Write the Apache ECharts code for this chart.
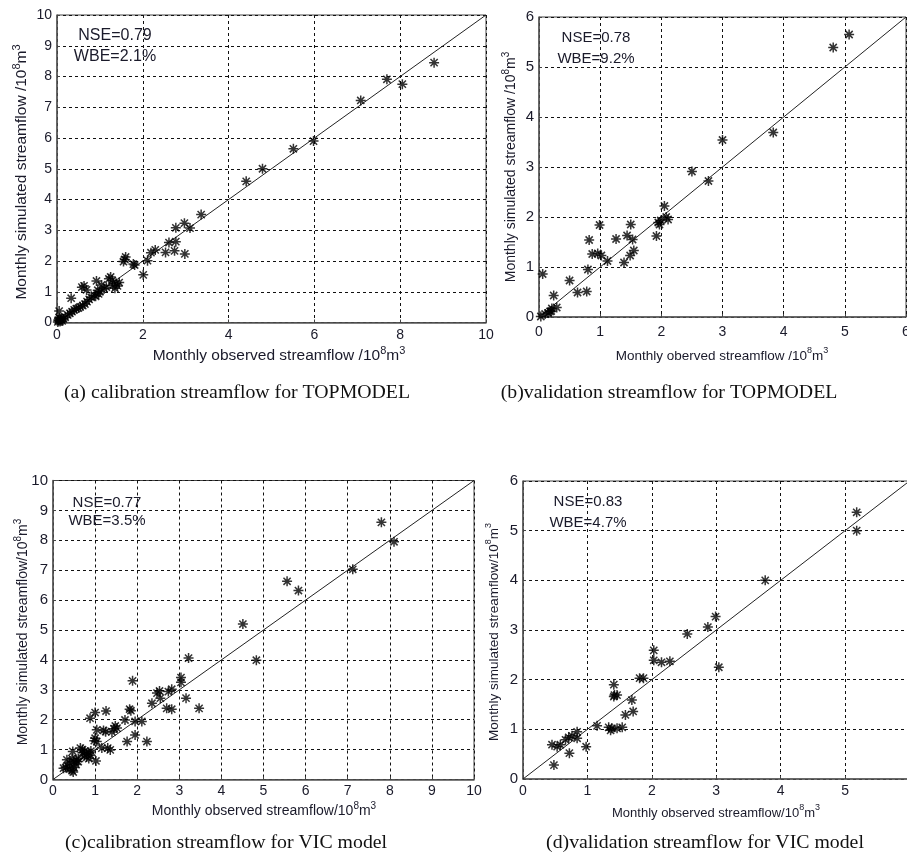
<!DOCTYPE html>
<html><head><meta charset="utf-8">
<script src="https://cdn.jsdelivr.net/npm/echarts@6/dist/echarts.min.js"></script>
<style>html,body{margin:0;padding:0;background:#fff}#c{width:907px;height:853px}</style>
</head><body><div id="c"></div>
<script>
// (a) calibration TOPMODEL
const aObs = [8.79,7.69,8.05,7.08,5.98,5.51,4.79,4.41,3.36,2.97,3.10,2.77,2.77,2.61,2.98,2.74,2.53,2.29,2.19,2.11,2.01,1.81,1.78,1.60,1.55,1.58,1.29,1.21,1.25,1.41,1.35,1.45,1.30,1.38,1.04,1.10,1.15,0.92,0.97,0.87,0.90,1.00,0.95,0.80,0.75,0.70,0.63,0.69,0.58,0.65,0.60,0.54,0.50,0.45,0.33,0.40,0.35,0.30,0.25,0.19,0.15,0.10,0.05,0.07,0.03,0.02,0.05,0.12,0.08,0.04];
const aSim = [8.45,7.91,7.75,7.22,5.90,5.65,5.00,4.59,3.51,3.23,3.07,3.08,2.63,2.60,2.23,2.33,2.28,2.36,2.27,2.01,1.55,1.87,1.90,2.13,1.98,2.05,1.36,1.42,1.48,1.19,1.11,1.30,1.20,1.27,1.22,1.10,1.15,1.35,0.93,0.89,0.85,1.00,1.05,0.82,0.75,0.68,1.19,1.06,1.15,0.60,0.55,0.51,0.47,0.45,0.79,0.41,0.35,0.30,0.25,0.17,0.12,0.10,0.37,0.03,0.08,0.02,0.15,0.05,0.12,0.06];
// (b) validation TOPMODEL
const bObs = [5.07,4.81,3.83,3.00,2.50,2.77,2.05,2.11,1.99,1.95,1.97,2.08,1.92,1.50,1.44,1.53,1.26,1.55,1.49,1.39,1.12,0.99,0.82,0.87,0.96,1.02,0.80,0.50,0.63,0.78,0.06,0.24,0.29,0.21,0.18,0.10,0.03,0.15,0.20];
const bSim = [5.65,5.39,3.69,3.54,2.91,2.72,2.22,1.95,1.93,1.89,1.85,2.00,1.62,1.85,1.63,1.55,1.56,1.33,1.23,1.09,1.12,1.84,1.54,1.26,1.27,1.23,0.95,0.73,0.49,0.51,0.86,0.43,0.19,0.17,0.11,0.06,0.01,0.08,0.12];
// (c) calibration VIC
const cObs = [7.80,8.10,7.12,5.56,5.83,4.51,4.83,3.22,3.04,3.04,3.16,3.47,2.82,2.74,2.53,2.47,2.55,2.35,2.70,2.82,1.89,1.82,1.85,1.71,1.95,2.11,1.95,1.76,2.23,1.26,1.00,0.88,1.04,1.20,1.25,1.40,1.48,1.52,1.45,1.00,1.04,0.98,1.16,1.36,1.30,1.02,0.90,0.85,0.80,0.75,0.70,0.80,0.70,0.65,0.60,0.55,0.50,0.47,0.45,0.40,0.35,0.33,0.25,0.30,0.45,0.50,0.55,0.60,0.48,0.40,0.85,0.90,0.75];
const cSim = [8.60,7.95,7.03,6.63,6.32,5.20,3.99,4.06,3.41,3.25,2.72,2.38,3.02,2.94,2.96,2.89,2.72,2.55,2.38,2.35,3.30,2.35,2.30,1.99,1.94,1.94,1.49,1.27,1.27,2.29,2.24,2.05,1.66,1.64,1.60,1.59,1.79,1.72,1.70,1.38,1.27,1.30,1.05,0.99,1.05,0.62,0.95,0.90,0.85,0.95,0.90,0.75,1.00,1.05,0.70,0.65,0.60,0.94,0.70,0.55,0.45,0.66,0.38,0.40,0.30,0.40,0.50,0.60,0.25,0.35,0.70,0.80,0.80];
// (d) validation VIC
const dObs = [5.18,5.18,3.76,2.99,2.87,2.55,2.03,2.03,2.15,2.28,3.04,1.81,1.87,1.41,1.42,1.46,1.41,1.69,1.71,1.59,1.15,1.33,1.38,1.46,1.54,1.36,0.98,0.84,0.84,0.76,0.71,0.66,0.58,0.53,0.45,0.72,0.48];
const dSim = [5.37,5.00,4.00,3.27,3.06,2.92,2.59,2.39,2.35,2.37,2.25,2.03,2.03,1.90,1.69,1.69,1.66,1.59,1.36,1.29,1.07,1.04,1.02,1.02,1.04,0.98,0.65,0.95,0.82,0.87,0.84,0.79,0.69,0.65,0.69,0.52,0.28];

const stats = [["NSE=0.79","WBE=2.1%"],["NSE=0.78","WBE=9.2%"],["NSE=0.77","WBE=3.5%"],["NSE=0.83","WBE=4.7%"]];
const captions = ["(a) calibration streamflow for TOPMODEL","(b)validation streamflow for TOPMODEL","(c)calibration streamflow for VIC model","(d)validation streamflow for VIC model"];
const xTitles = ["Monthly observed streamflow /10{s|8}m{s|3}","Monthly oberved streamflow /10{s|8}m{s|3}","Monthly observed streamflow/10{s|8}m{s|3}","Monthly observed streamflow/10{s|8}m{s|3}"];
const yTitles = ["Monthly simulated streamflow /10{s|8}m{s|3}","Monthly simulated streamflow /10{s|8}m{s|3}","Monthly simulated streamflow/10{s|8}m{s|3}","Monthly simulated streamflow/10{s|8}m{s|3}"];
const axisMax = [10,6,10,6];
const xInterval = [2,1,1,1];
const yInterval = [1,1,1,1];

const pairs = (xs, ys) => xs.map((v, i) => [v, ys[i]]);
const data = [pairs(aObs,aSim), pairs(bObs,bSim), pairs(cObs,cSim), pairs(dObs,dSim)];

const grids = [
  {left:57, top:15, width:429, height:307.5},
  {left:539, top:17, width:367, height:300},
  {left:53, top:480.5, width:421, height:299},
  {left:523, top:481, width:386.5, height:298}
];
const xMargin = [6,8,5,5];
const FONT = "'Liberation Sans', Arial, sans-serif";
const SERIF = "'Liberation Serif', 'Times New Roman', serif";
const star = 'path://M0,-5L0,5M-5,0L5,0M-3.6,-3.6L3.6,3.6M-3.6,3.6L3.6,-3.6';

const option = {
  animation:false,
  backgroundColor:'#fff',
  grid: grids.map(g => Object.assign({show:true, borderColor:'#444', borderWidth:1, backgroundColor:'#fff', containLabel:false, outerBoundsMode:'none'}, g)),
  xAxis: grids.map((g,i) => ({
    type:'value', gridIndex:i, min:0, max:axisMax[i], interval:xInterval[i],
    axisLine:{show:true, onZero:false, lineStyle:{color:'#555', width:1.5}},
    axisTick:{show:true, inside:true, length:3, lineStyle:{color:'#444'}},
    axisLabel:{fontFamily:FONT, fontSize:14, color:'#1a1a2a', margin:xMargin[i], showMaxLabel:i!==3, hideOverlap:false},
    splitLine:{show:true, lineStyle:{color:'#111', type:[3,3], width:1}}
  })),
  yAxis: grids.map((g,i) => ({
    type:'value', gridIndex:i, min:0, max:axisMax[i], interval:yInterval[i],
    axisLine:{show:true, onZero:false, lineStyle:{color:'#555', width:1.5}},
    axisTick:{show:true, inside:true, length:3, lineStyle:{color:'#444'}},
    axisLabel:{fontFamily:FONT, fontSize:i===0?14:15, color:'#1a1a2a', margin:5},
    splitLine:{show:true, lineStyle:{color:'#111', type:[3,3], width:1}}
  })),
  series: [],
  graphic: []
};

data.forEach((d,i) => {
  option.series.push({
    type:'line', xAxisIndex:i, yAxisIndex:i, data:[[0,0],[axisMax[i],axisMax[i]]],
    showSymbol:false, lineStyle:{color:'#222', width:1}, silent:true, z:2
  });
  option.series.push({
    type:'scatter', xAxisIndex:i, yAxisIndex:i, data:d, symbol:star, symbolSize:10,
    itemStyle:{color:'#000', borderColor:'#000', borderWidth:1.5}, z:3
  });
});

function txt(x,y,text,size,opts){
  const supSize = Math.round(size*0.68);
  return Object.assign({type:'text', x:x, y:y, z:100, style:Object.assign({
    text:text, fontFamily:FONT, fontSize:size, fill:'#1a1a2a', align:'center', verticalAlign:'middle',
    lineHeight:size+6, rich:{s:{fontSize:supSize, fontFamily:FONT, verticalAlign:'top', lineHeight:supSize+1, fill:'#1a1a2a'}}
  }, opts && opts.style || {})}, opts && opts.el || {});
}
// stats text
const statPos = [[115,36,57,16],[596,38,59,15],[107,503,521,15],[588,502,523,15]];
statPos.forEach((p,i) => {
  option.graphic.push(txt(p[0],p[1],stats[i][0],p[3]));
  option.graphic.push(txt(p[0],p[2],stats[i][1],p[3]));
});
// x titles
const xtPos = [[279,356,15.5],[722,356,13.5],[264,811,14],[716,813,13]];
xtPos.forEach((p,i) => option.graphic.push(txt(p[0],p[1],xTitles[i],p[2])));
// y titles
const ytPos = [[22,172,15.5],[511,167,14],[23,632,14],[494,632,13.5]];
ytPos.forEach((p,i) => option.graphic.push(txt(p[0],p[1],yTitles[i],p[2],{el:{rotation:Math.PI/2}})));
// captions
const capPos = [[237,393],[669,393],[226,843],[705,843]];
capPos.forEach((p,i) => option.graphic.push(txt(p[0],p[1],captions[i],18,{style:{fontFamily:SERIF, fill:'#111'}, el:{scaleX:1.1}})));

const chart = echarts.init(document.getElementById('c'), null, {renderer:'canvas'});
chart.setOption(option);
</script></body></html>
